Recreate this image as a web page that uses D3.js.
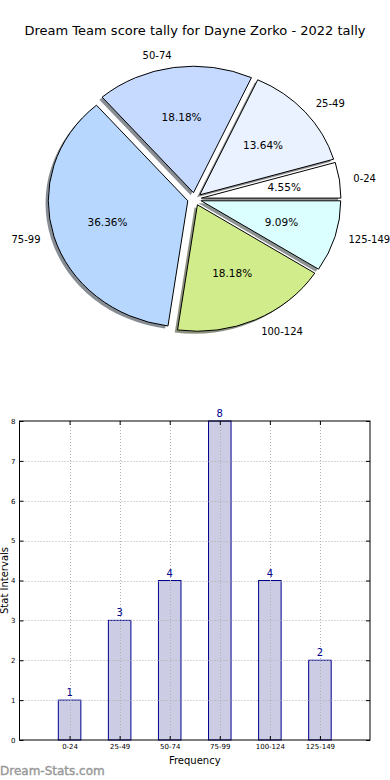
<!DOCTYPE html>
<html>
<head>
<meta charset="utf-8">
<script src="https://cdn.jsdelivr.net/npm/d3@7"></script>
<style>
  body { margin: 0; background: #fff; }
  svg { display: block; font-family: "DejaVu Sans", sans-serif; }
</style>
</head>
<body>
<div id="chart"></div>
<script>
// score buckets and how many games fell into each
const categories = ["0-24", "25-49", "50-74", "75-99", "100-124", "125-149"];
const counts = [1, 3, 4, 8, 4, 2];
const sliceColors = ["#ffffff", "#eaf1ff", "#c6d9ff", "#b7d7ff", "#d1ec8a", "#dbffff"];
const yTicks = [0, 1, 2, 3, 4, 5, 6, 7, 8];
const title = "Dream Team score tally for Dayne Zorko - 2022 tally";

const W = 390, H = 780;
const svg = d3.select("#chart").append("svg")
    .attr("width", W).attr("height", H);

svg.append("text")
    .attr("x", 195).attr("y", 35)
    .attr("text-anchor", "middle")
    .style("font-size", "13px")
    .text(title);

// ---- pie (matplotlib style: starts at 3 o'clock, counter clockwise, exploded, shadow)
const cx = 194.5, cy = 199, rx = 139.5, ry = 126.5, explode = 0.05;
const R = 100; // arcs drawn at R then stretched into the ellipse

const pie = d3.pie().sort(null)
    .startAngle(Math.PI / 2)
    .endAngle(Math.PI / 2 - 2 * Math.PI);
const arcs = pie(counts);
const total = d3.sum(counts);
const arc = d3.arc().innerRadius(0).outerRadius(R);

function offset(d, k) {
    let m = (d.startAngle + d.endAngle) / 2;
    return [Math.sin(m) * k * rx, -Math.cos(m) * k * ry];
}

let pieG = svg.append("g");

// shadows first
arcs.forEach(function(d, i) {
    let o = offset(d, explode);
    let c = d3.rgb(sliceColors[i]);
    pieG.append("path")
        .attr("d", arc(d))
        .attr("transform", "translate(" + (cx + o[0] - 2.8) + "," + (cy + o[1] + 2.5) + ") scale(" + rx / R + "," + ry / R + ")")
        .style("fill", d3.rgb(c.r * 0.3, c.g * 0.3, c.b * 0.3))
        .style("opacity", 0.6);
});

arcs.forEach(function(d, i) {
    let o = offset(d, explode);
    pieG.append("path")
        .attr("d", arc(d))
        .attr("transform", "translate(" + (cx + o[0]) + "," + (cy + o[1]) + ") scale(" + rx / R + "," + ry / R + ")")
        .attr("vector-effect", "non-scaling-stroke")
        .style("fill", sliceColors[i])
        .style("stroke", "#000")
        .style("stroke-width", 1);
});

arcs.forEach(function(d, i) {
    let m = (d.startAngle + d.endAngle) / 2;
    let o = offset(d, explode);
    let sx = Math.sin(m), sy = -Math.cos(m);
    // outer label
    svg.append("text")
        .attr("x", cx + o[0] + 1.1 * rx * sx)
        .attr("y", cy + o[1] + 1.1 * ry * sy)
        .attr("dy", "0.35em")
        .attr("text-anchor", sx > 0 ? "start" : "end")
        .style("font-size", "10px")
        .text(categories[i]);
    // percent label
    svg.append("text")
        .attr("x", cx + o[0] + 0.6 * rx * sx)
        .attr("y", cy + o[1] + 0.6 * ry * sy)
        .attr("dy", "0.35em")
        .attr("text-anchor", "middle")
        .style("font-size", "10.5px")
        .text((d.data / total * 100).toFixed(2) + "%");
});

// ---- bar chart
const pLeft = 19.5, pRight = 370, pTop = 421, pBottom = 740;

let x = d3.scaleLinear().domain([-1, 6]).range([pLeft, pRight]);
let y = d3.scaleLinear().domain([0, 8]).range([pBottom, pTop]);
const barW = x(0.45) - x(0);

let barG = svg.append("g");

barG.selectAll(".bar")
    .data(counts)
    .enter().append("rect")
    .attr("class", "bar")
    .attr("x", function(d, i) { return x(i) - barW / 2; })
    .attr("y", function(d) { return y(d); })
    .attr("width", barW)
    .attr("height", function(d) { return y(0) - y(d); })
    .style("fill", "#ccccE4")
    .style("stroke", "#000090")
    .style("stroke-width", 1);

// grid on top of bars
let grid = svg.append("g").style("stroke", "#b0b0b0").style("stroke-dasharray", "1,2");
yTicks.slice(1, -1).forEach(function(t) {
    grid.append("line")
        .attr("x1", pLeft).attr("x2", pRight)
        .attr("y1", Math.round(y(t)) + 0.5).attr("y2", Math.round(y(t)) + 0.5);
});
categories.forEach(function(c, i) {
    grid.append("line")
        .attr("x1", Math.round(x(i)) + 0.5).attr("x2", Math.round(x(i)) + 0.5)
        .attr("y1", pTop).attr("y2", pBottom);
});

// axes with inward ticks, matplotlib classic look
let yAxisL = d3.axisLeft(y).tickValues(yTicks).tickSizeInner(-4).tickSizeOuter(0).tickPadding(4);
let yAxisR = d3.axisRight(y).tickValues(yTicks).tickSizeInner(-4).tickSizeOuter(0).tickFormat("");
let xAxisB = d3.axisBottom(x).tickValues(d3.range(categories.length))
    .tickFormat(function(i) { return categories[i]; })
    .tickSizeInner(-4).tickSizeOuter(0).tickPadding(4);
let xAxisT = d3.axisTop(x).tickValues(d3.range(categories.length))
    .tickSizeInner(-4).tickSizeOuter(0).tickFormat("");

[[yAxisL, "translate(" + pLeft + ",0)"], [yAxisR, "translate(" + pRight + ",0)"],
 [xAxisB, "translate(0," + pBottom + ")"], [xAxisT, "translate(0," + pTop + ")"]].forEach(function(a) {
    let g = svg.append("g").attr("transform", a[1]).call(a[0]);
    g.selectAll(".domain").remove();
    g.selectAll("line").style("stroke", "#000");
    g.selectAll("text").style("font-size", "7px").style("font-family", "DejaVu Sans").style("fill", "#000");
});

svg.append("rect")
    .attr("x", pLeft).attr("y", pTop)
    .attr("width", pRight - pLeft).attr("height", pBottom - pTop)
    .style("fill", "none").style("stroke", "#000").style("stroke-width", 1);

// value labels
svg.selectAll(".val")
    .data(counts)
    .enter().append("text")
    .attr("class", "val")
    .attr("x", function(d, i) { return x(i); })
    .attr("y", function(d) { return y(d) - 4; })
    .attr("text-anchor", "middle")
    .style("font-size", "10px")
    .style("fill", "#00008b")
    .text(function(d) { return d; });

svg.append("text")
    .attr("x", (pLeft + pRight) / 2).attr("y", 764)
    .attr("text-anchor", "middle")
    .style("font-size", "10px")
    .text("Frequency");

svg.append("text")
    .attr("transform", "translate(8," + (pTop + pBottom) / 2 + ") rotate(-90)")
    .attr("text-anchor", "middle")
    .style("font-size", "10px")
    .text("Stat Intervals");

svg.append("text")
    .attr("x", 0).attr("y", 775)
    .style("font-size", "12px")
    .style("fill", "#999")
    .style("stroke", "#999")
    .style("stroke-width", 0.4)
    .text("Dream-Stats.com");
</script>
</body>
</html>
